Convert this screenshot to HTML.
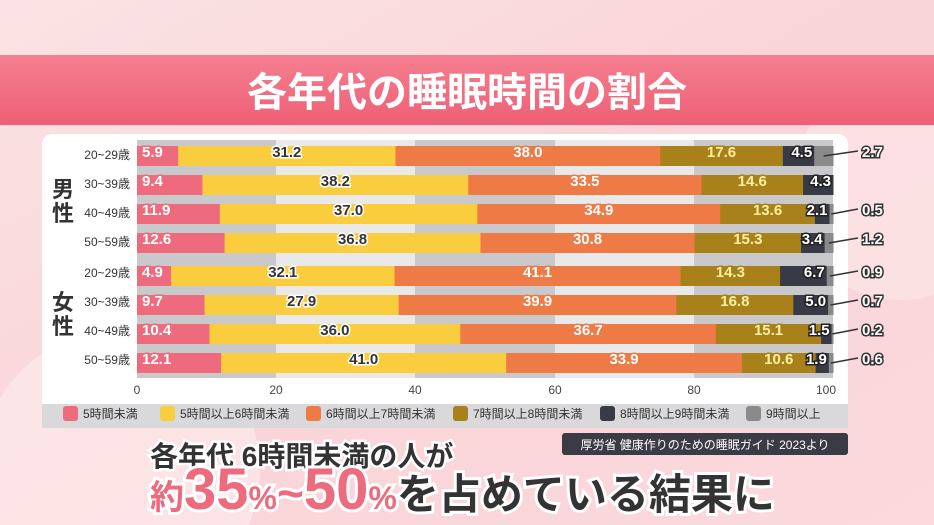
<!DOCTYPE html>
<html><head><meta charset="utf-8"><style>
html,body{margin:0;width:934px;height:525px;overflow:hidden;font-family:"Liberation Sans","Noto Sans CJK JP",sans-serif;}
svg{display:block;}
</style></head><body>
<svg width="934" height="525" viewBox="0 0 934 525" xmlns="http://www.w3.org/2000/svg" font-family="Liberation Sans, Noto Sans CJK JP, sans-serif">
<defs>
<linearGradient id="bg" x1="0" y1="0" x2="1" y2="1">
<stop offset="0" stop-color="#fbe3e4"/><stop offset="0.5" stop-color="#f9d4d8"/><stop offset="1" stop-color="#fbd9dc"/></linearGradient>
<linearGradient id="ban" x1="0" y1="0" x2="0" y2="1">
<stop offset="0" stop-color="#f57f90"/><stop offset="1" stop-color="#ee5f75"/></linearGradient>
</defs>
<rect width="934" height="525" fill="url(#bg)"/>
<circle cx="120" cy="470" r="140" fill="#fdeeee" opacity="0.6"/>
<circle cx="900" cy="190" r="110" fill="#fde7ea" opacity="0.6"/>
<rect x="0" y="55" width="934" height="70" fill="url(#ban)"/>
<text x="467" y="106" text-anchor="middle" font-size="40" font-weight="bold" fill="#fff">各年代の睡眠時間の割合</text>
<rect x="42" y="134" width="806" height="294" rx="10" fill="#fff"/>
<rect x="42" y="400" width="806" height="28" fill="#d9d9db"/>
<rect x="42" y="400" width="806" height="4" fill="#fff"/>
<g>
<rect x="137" y="140" width="139" height="238" fill="#c9c9cb"/>
<rect x="276" y="140" width="139" height="238" fill="#e9e9ea"/>
<rect x="415" y="140" width="140" height="238" fill="#c9c9cb"/>
<rect x="555" y="140" width="139" height="238" fill="#e9e9ea"/>
<rect x="694" y="140" width="139" height="238" fill="#c9c9cb"/>
</g>
<g id="bars"></g>
<g font-size="12" fill="#333" text-anchor="end">
<text x="130" y="159">20~29歳</text><text x="130" y="188">30~39歳</text><text x="130" y="217">40~49歳</text><text x="130" y="246">50~59歳</text>
<text x="130" y="277">20~29歳</text><text x="130" y="306">30~39歳</text><text x="130" y="335">40~49歳</text><text x="130" y="364">50~59歳</text>
</g>
<g font-size="22" font-weight="bold" fill="#333" text-anchor="middle">
<text x="63" y="197">男</text><text x="63" y="221">性</text>
<text x="63" y="310">女</text><text x="63" y="334">性</text>
</g>
<g font-size="12" fill="#444" text-anchor="middle">
<text x="137" y="394">0</text><text x="276" y="394">20</text><text x="415" y="394">40</text><text x="555" y="394">60</text><text x="694" y="394">80</text><text x="826" y="394">100</text>
</g>
<g font-size="12" fill="#333">
<rect x="63" y="406" width="15" height="15" rx="3" fill="#ee6b7e"/><text x="83" y="418">5時間未満</text>
<rect x="160" y="406" width="15" height="15" rx="3" fill="#f9cd3e"/><text x="180" y="418">5時間以上6時間未満</text>
<rect x="306" y="406" width="15" height="15" rx="3" fill="#ee7a45"/><text x="326" y="418">6時間以上7時間未満</text>
<rect x="453" y="406" width="15" height="15" rx="3" fill="#a8811a"/><text x="473" y="418">7時間以上8時間未満</text>
<rect x="600" y="406" width="15" height="15" rx="3" fill="#383a45"/><text x="620" y="418">8時間以上9時間未満</text>
<rect x="746" y="406" width="15" height="15" rx="3" fill="#8a8a8a"/><text x="766" y="418">9時間以上</text>
</g>
<rect x="562" y="433" width="286" height="22" rx="3" fill="#3a3b44"/>
<text x="705" y="449" text-anchor="middle" font-size="12" fill="#fff">厚労省 健康作りのための睡眠ガイド 2023より</text>
<text x="150" y="466" font-size="28" font-weight="bold" fill="#333" stroke="#fff" stroke-width="5" paint-order="stroke">各年代 6時間未満の人が</text>
<text x="150" y="509" font-size="44" font-weight="bold" stroke="#fff" stroke-width="6" paint-order="stroke" fill="#333"><tspan font-size="34" fill="#ee6b7e">約</tspan><tspan fill="#ee6b7e" font-size="58">35</tspan><tspan fill="#ee6b7e" font-size="32">%</tspan><tspan fill="#ee6b7e" font-size="46">~</tspan><tspan fill="#ee6b7e" font-size="58">50</tspan><tspan fill="#ee6b7e" font-size="32">%</tspan><tspan font-size="42">を占めている結果に</tspan></text>
</svg>
<script>
const data=[[5.9,31.2,38.0,17.6,4.5,2.7],[9.4,38.2,33.5,14.6,4.3,0],[11.9,37.0,34.9,13.6,2.1,0.5],[12.6,36.8,30.8,15.3,3.4,1.2],[4.9,32.1,41.1,14.3,6.7,0.9],[9.7,27.9,39.9,16.8,5.0,0.7],[10.4,36.0,36.7,15.1,1.5,0.2],[12.1,41.0,33.9,10.6,1.9,0.6]];
const tops=[144,173,202,231,264,293,322,351];
const cols=["#ee6b7e","#f9cd3e","#ee7a45","#a8811a","#383a45","#8a8a8a"];
const fill=["#fff","#333","#fff","#fff0a0","#fff","#fff"];
const strk=["#ee6b7e","#fff","#ee7a45","#a8811a","#222","#333"];
const ns="http://www.w3.org/2000/svg";const g=document.getElementById("bars");
const x0=137;
function el(t,a,txt){const e=document.createElementNS(ns,t);for(const k in a)e.setAttribute(k,a[k]);if(txt!==undefined)e.textContent=txt;g.appendChild(e);return e;}
data.forEach((r,i)=>{let x=x0;const y=tops[i];const tot=r.reduce((a,b)=>a+b,0);const sc=696/tot;
r.forEach((v,j)=>{const w=v*sc;if(w>0)el("rect",{x:x,y:y+2,width:w+0.5,height:20,fill:cols[j]});
if(j<5){let cx=j==0?x+5:x+w/2;let anc=j==0?"start":"middle";if(j==4){cx=x+w-2;anc="end";}
el("text",{x:cx,y:y+13,"text-anchor":anc,"font-size":15,"font-weight":"bold",fill:fill[j],stroke:strk[j],"stroke-width":3,"paint-order":"stroke"},v.toFixed(1));}
else if(v>0){el("line",{x1:x+w/2,y1:y+12,x2:858,y2:y+7,stroke:"#333","stroke-width":1.5});
el("text",{x:862,y:y+13,"font-size":15,"font-weight":"bold",fill:"#fff",stroke:"#333","stroke-width":3,"paint-order":"stroke"},v.toFixed(1));}
x+=w;});});
</script>
</body></html>
